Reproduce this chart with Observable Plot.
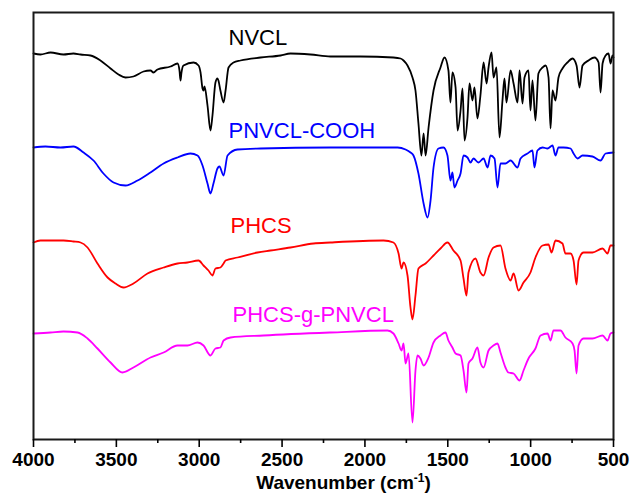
<!DOCTYPE html>
<html><head><meta charset="utf-8">
<script src="https://cdn.jsdelivr.net/npm/d3@7"></script>
<script src="https://cdn.jsdelivr.net/npm/@observablehq/plot@0.6"></script>
<style>body{margin:0;background:#fff}</style>
</head><body><div id="chart"></div>
<script>
// FTIR spectra, wavenumber (cm-1) and transmittance (arbitrary, offset units)
const nvclWn = [4000,3958,3897,3819,3759,3716,3656,3596,3535,3487,3445,3397,3336,3294,3276,3252,3173,3131,3119,3113,3107,3095,3034,3004,2992,2980,2974,2968,2950,2932,2920,2902,2890,2884,2872,2853,2841,2823,2793,2751,2630,2509,2449,2328,2208,2027,1828,1785,1767,1743,1713,1695,1677,1659,1646,1634,1616,1586,1544,1520,1496,1484,1472,1453,1441,1423,1411,1399,1381,1369,1351,1339,1321,1303,1284,1266,1254,1236,1224,1206,1188,1170,1158,1146,1121,1103,1079,1067,1049,1037,1013,1001,989,971,953,928,910,892,880,868,850,832,808,778,747,723,705,687,651,615,590,578,566,548,530,518,506,500];
const nvclT = [385,384,386,384,385,384,383,378,370,364,361,362,367,368,366,369,372,375,368,358,366,373,376,373,366,350,348,352,333,308,323,356,360,358,348,336,348,371,376,378,381,383,385,384,382,382,381,380,378,373,361,348,315,283,305,283,311,348,371,381,368,336,366,351,308,328,350,298,321,355,338,351,320,343,376,355,371,386,361,371,301,338,360,336,368,355,336,368,335,361,368,328,358,318,365,371,373,361,310,348,338,361,370,376,380,373,351,373,378,381,376,346,375,383,385,375,383,381];

const cooWn = [4000,3928,3837,3759,3698,3638,3578,3517,3445,3372,3294,3215,3131,3053,3010,2980,2950,2932,2914,2890,2878,2853,2829,2769,2630,2208,1803,1755,1725,1707,1677,1646,1622,1604,1586,1556,1526,1502,1484,1472,1460,1441,1423,1405,1381,1363,1345,1315,1284,1260,1242,1218,1200,1182,1152,1121,1079,1061,1019,989,977,959,928,898,868,850,832,802,759,741,717,687,627,578,548,500];
const cooT = [291,292,291,292,286,278,265,256,253,258,266,275,281,285,283,273,255,245,255,270,272,263,283,289,290,291,291,289,286,283,265,235,221,238,271,290,291,283,258,266,251,258,265,283,281,276,280,276,280,271,283,280,251,275,275,278,271,280,285,288,271,288,291,290,293,283,291,291,290,285,280,283,282,278,285,286];

const phcsWn = [4000,3958,3897,3819,3759,3716,3674,3614,3553,3505,3457,3397,3312,3215,3131,3071,3004,2974,2944,2920,2902,2872,2853,2841,2769,2648,2570,2449,2310,2208,1888,1828,1797,1779,1767,1743,1725,1713,1695,1677,1634,1586,1544,1502,1466,1423,1405,1387,1375,1333,1303,1284,1254,1224,1182,1152,1121,1103,1073,1043,1001,971,928,892,874,850,808,790,759,741,723,711,681,627,566,536,518,500];
const phcsT = [196,198,198,198,197,196,191,175,161,155,151,155,165,171,175,176,178,173,168,163,170,171,175,178,181,186,188,191,195,196,198,196,185,170,176,163,131,119,143,170,175,183,190,196,188,178,160,143,166,180,166,163,181,191,193,170,158,165,148,156,166,181,193,194,186,198,195,185,185,178,154,178,186,186,190,185,193,193];

const graftWn = [4000,3897,3819,3734,3674,3614,3535,3463,3397,3294,3215,3131,3071,3010,2974,2932,2902,2872,2853,2811,2612,2208,1864,1828,1797,1779,1767,1755,1737,1713,1695,1683,1665,1646,1616,1586,1544,1514,1496,1472,1453,1423,1405,1387,1375,1351,1321,1303,1284,1254,1224,1200,1182,1152,1134,1103,1067,1043,1013,971,940,898,880,862,820,790,747,735,723,711,681,627,566,536,518,500];
const graftT = [105,106,107,106,100,90,76,66,71,81,86,93,93,96,93,83,90,91,98,101,103,106,108,105,95,88,95,75,85,16,68,83,80,73,81,96,103,106,98,91,85,83,68,46,75,80,91,76,71,88,93,95,86,71,66,65,58,68,80,90,103,105,98,108,108,101,95,88,65,93,100,100,103,98,105,106];

const seriesNames = ["NVCL", "PNVCL-COOH", "PHCS", "PHCS-g-PNVCL"];
const seriesColors = ["#000000", "#0000ff", "#ff0000", "#ff00ff"];
const labelWn = [2823, 2823, 2811, 2799];
const labelT = [401, 308, 213, 124];
const majorTicks = [4000, 3500, 3000, 2500, 2000, 1500, 1000, 500];
const minorTicks = [3750, 3250, 2750, 2250, 1750, 1250, 750];
const axisTitle = "Wavenumber (cm-1)";

const seriesData = [[nvclWn, nvclT], [cooWn, cooT], [phcsWn, phcsT], [graftWn, graftT]];
const rows = [];
seriesData.forEach(([w, t], i) => w.forEach((x, j) => rows.push({series: seriesNames[i], wn: x, t: t[j]})));
const labels = seriesNames.map((s, i) => ({series: s, wn: labelWn[i], t: labelT[i]}));

const chart = Plot.plot({
  width: 630, height: 495,
  marginLeft: 33, marginRight: 17, marginTop: 12, marginBottom: 56,
  style: {fontFamily: "'Liberation Sans', Arial, sans-serif", background: "#fff", color: "#000"},
  x: {domain: [4000, 500]},
  y: {domain: [-1, 426], axis: null},
  color: {domain: seriesNames, range: seriesColors},
  marks: [
    Plot.line(rows, {x: "wn", y: "t", z: "series", stroke: "series", strokeWidth: 1.8, curve: "monotone-x"}),
    Plot.text(labels, {x: "wn", y: "t", text: "series", fill: "series", textAnchor: "start", fontSize: 22}),
    Plot.frame({stroke: "#1a1a1a", strokeWidth: 2}),
    Plot.axisX({ticks: majorTicks, tickSize: 8, tickPadding: 5, tickFormat: d => String(d), fontSize: 19, fontWeight: "bold", label: null, strokeWidth: 1.6}),
    Plot.axisX({ticks: minorTicks, tickSize: 4, tickFormat: () => "", label: null, strokeWidth: 1.6}),
    Plot.text([axisTitle], {frameAnchor: "bottom", dx: 20, dy: 36, lineAnchor: "top", fontSize: 19, fontWeight: "bold"})
  ]
});
document.getElementById("chart").appendChild(chart);

// superscript for cm-1
const NS = "http://www.w3.org/2000/svg";
chart.querySelectorAll("text").forEach(t => {
  if (t.textContent === axisTitle) {
    t.textContent = "";
    t.appendChild(document.createTextNode("Wavenumber (cm"));
    const sup = document.createElementNS(NS, "tspan");
    sup.setAttribute("font-size", "12");
    sup.setAttribute("dy", "-7");
    sup.textContent = "-1";
    t.appendChild(sup);
    const close = document.createElementNS(NS, "tspan");
    close.setAttribute("dy", "7");
    close.textContent = ")";
    t.appendChild(close);
  }
});
</script>
</body></html>
